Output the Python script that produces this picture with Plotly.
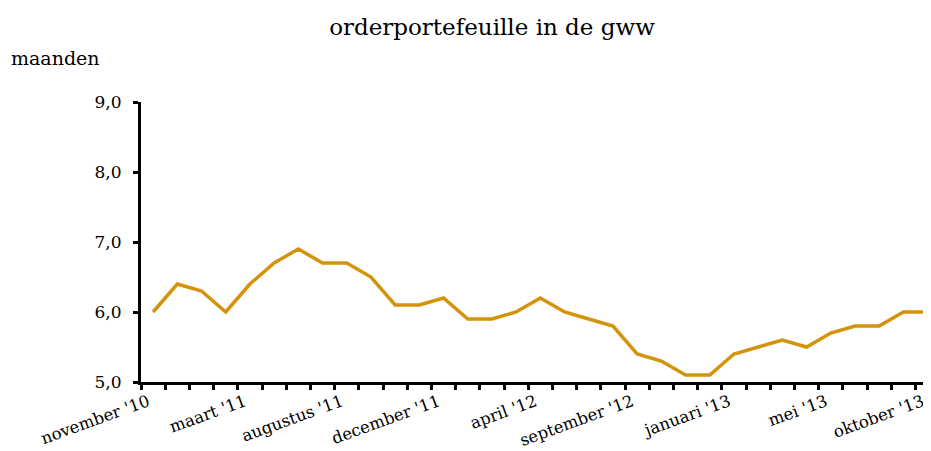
import plotly.graph_objects as go

title = "orderportefeuille in de gww"
y_unit = "maanden"

# monthly values (months of work in hand), 33 observations
values = [6.0, 6.4, 6.3, 6.0, 6.4, 6.7, 6.9, 6.7, 6.7, 6.5, 6.1,
          6.1, 6.2, 5.9, 5.9, 6.0, 6.2, 6.0, 5.9, 5.8, 5.4, 5.3,
          5.1, 5.1, 5.4, 5.5, 5.6, 5.5, 5.7, 5.8, 5.8, 6.0, 6.0]

# labels shown on every 4th observation
tick_labels = ["november '10", "maart '11", "augustus '11", "december '11",
               "april '12", "september '12", "januari '13", "mei '13",
               "oktober '13"]
label_step = 4

x_idx = list(range(len(values)))
tick_vals = x_idx[::label_step]

# the page body has an 8px margin; size the figure so it fills the window
OFF = 8
W, H = 931 - OFF, 451 - OFF

fig = go.Figure()
fig.add_trace(go.Scatter(
    x=x_idx, y=values, mode="lines",
    line=dict(color="#D4930A", width=3.5),
    hoverinfo="skip", showlegend=False, cliponaxis=False,
))

fig.update_layout(
    width=W, height=H,
    margin=dict(l=141 - OFF, r=0, t=102 - OFF, b=69, autoexpand=False),
    paper_bgcolor="white", plot_bgcolor="white",
    separators=", ",
    title=dict(text=title, xref="container", yref="container",
               x=(492 - OFF) / W, xanchor="center",
               y=1 - (27 - OFF) / H, yanchor="middle",
               font=dict(family="DejaVu Serif", size=23, color="black")),
    xaxis=dict(
        range=[-0.5, 32.14], showgrid=False, zeroline=False,
        showline=True, linecolor="black", linewidth=3, automargin=False,
        tickmode="array", tickvals=tick_vals, ticktext=tick_labels,
        ticks="outside", ticklen=1, tickcolor="rgba(0,0,0,0)",
        tickangle=-20, ticklabeloverflow="allow", ticklabelshift=-5,
        tickfont=dict(family="DejaVu Serif", size=16.5, color="black"),
        minor=dict(ticks="outside", ticklen=5, tickwidth=3,
                   tickcolor="black", tick0=-0.5, dtick=1),
    ),
    yaxis=dict(
        range=[5, 9], dtick=1, tickformat=".1f", showgrid=False,
        zeroline=False, showline=True, linecolor="black", linewidth=3,
        automargin=False,
        ticks="outside", ticklen=5, tickwidth=3, tickcolor="black",
        tickfont=dict(family="DejaVu Serif", size=17, color="black"),
        ticklabelstandoff=8,
    ),
    annotations=[dict(text=y_unit, xref="paper", yref="paper",
                      x=(9 - 141) / 790, y=1 + (101.7 - 58) / 280,
                      xanchor="left", yanchor="middle", showarrow=False,
                      font=dict(family="DejaVu Serif", size=19, color="black"))],
)

fig.write_html("out.html")
